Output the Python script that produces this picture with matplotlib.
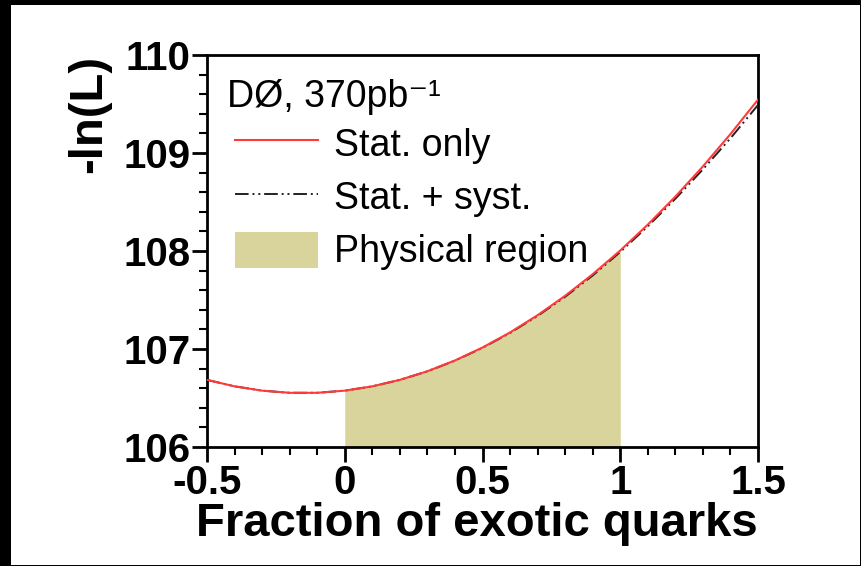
import numpy as np
import matplotlib
matplotlib.use('Agg')
import matplotlib.pyplot as plt
from matplotlib.patches import Rectangle

plt.rcParams['font.family'] = ['Liberation Sans', 'DejaVu Sans']

# -ln(L), fraction of exotic quarks from -0.5 to 1.5
frac = [-0.5, -0.4, -0.3, -0.2, -0.1, 0.0, 0.1, 0.2, 0.3, 0.4, 0.5,
        0.6, 0.7, 0.8, 0.9, 1.0, 1.1, 1.2, 1.3, 1.4, 1.5]
stat_only = [106.685, 106.619, 106.575, 106.553, 106.553, 106.575, 106.619,
             106.685, 106.773, 106.883, 107.015, 107.169, 107.345, 107.543,
             107.763, 108.005, 108.269, 108.555, 108.863, 109.193, 109.545]
stat_syst = [106.685, 106.619, 106.575, 106.553, 106.553, 106.575, 106.619,
             106.685, 106.772, 106.881, 107.012, 107.164, 107.338, 107.533,
             107.750, 107.990, 108.252, 108.533, 108.833, 109.150, 109.490]

# physical region 0 <= f <= 1
phys_lo, phys_hi = 0.0, 1.0

xticks = [-0.5, 0, 0.5, 1, 1.5]
xtick_labels = ['-0.5', '0', '0.5', '1', '1.5']
yticks = [106, 107, 108, 109, 110]
ytick_labels = ['106', '107', '108', '109', '110']

fig = plt.figure(figsize=(8.61, 5.66), dpi=100, facecolor='black')
W, H = 861, 566
fig.patches.append(Rectangle((11 / W, 1 / H), 849 / W, 560 / H,
                             transform=fig.transFigure, facecolor='white',
                             edgecolor='none', zorder=-10))

ax = fig.add_axes([207 / W, 1 - 447 / H, 551 / W, 392 / H])
ax.set_facecolor('white')

x = np.array(frac)
y1 = np.array(stat_only)
y2 = np.array(stat_syst)
mask = (x >= phys_lo) & (x <= phys_hi)
ax.fill_between(x[mask], 106, y1[mask], color='#d8d49b', linewidth=0,
                label='Physical region', zorder=1)
ax.plot(x, y2, color='#222222', lw=1.4, ls=(0, (7, 2, 1, 2, 1, 2)),
        label='Stat. + syst.', zorder=3)
ax.plot(x, y1, color='#ff3a3a', lw=1.5, label='Stat. only', zorder=4)

ax.set_xlim(-0.5, 1.5)
ax.set_ylim(106, 110)
ax.set_xticks(xticks)
ax.set_xticklabels(xtick_labels)
ax.set_yticks(yticks)
ax.set_yticklabels(ytick_labels)
ax.set_xticks(np.arange(-0.5, 1.51, 0.1), minor=True)
ax.set_yticks(np.arange(106, 110.01, 0.2), minor=True)

for lab in ax.get_xticklabels() + ax.get_yticklabels():
    lab.set_fontweight('bold')
    lab.set_fontsize(29)
ax.tick_params(which='major', direction='out', length=11, width=2, pad=1)
ax.tick_params(which='minor', direction='out', length=6, width=1.5)
for s in ax.spines.values():
    s.set_linewidth(2)

ax.set_xlabel('Fraction of exotic quarks', fontsize=34, fontweight='bold',
              loc='right', labelpad=0)
ax.set_ylabel('-ln(L)', fontsize=34, fontweight='bold', loc='top',
              labelpad=9)

ax.text(20 / 551, (447 - 107) / 392, 'DØ, 370pb⁻¹', fontsize=27,
        transform=ax.transAxes, ha='left', va='baseline')

h, l = ax.get_legend_handles_labels()
order = [2, 1, 0]
leg = ax.legend([h[i] for i in order], [l[i] for i in order], fontsize=27,
                loc='upper left', bbox_to_anchor=(28 / 551, (447 - 125) / 392),
                borderpad=0, borderaxespad=0, frameon=False,
                handlelength=2.2, handleheight=1.1,
                handletextpad=0.45, labelspacing=0.39)

fig.savefig('out.png', dpi=100, facecolor=fig.get_facecolor())
